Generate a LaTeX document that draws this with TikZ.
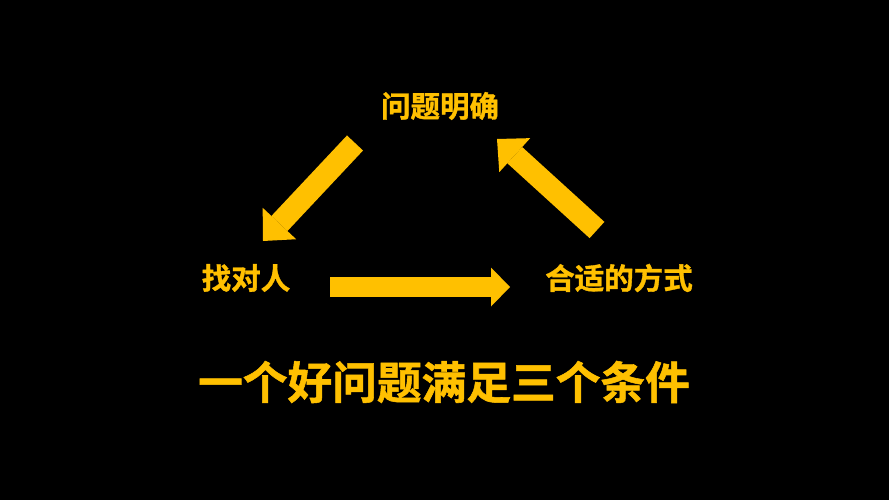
\documentclass[tikz,border=0pt]{standalone}
\usepackage{fontspec}
\usetikzlibrary{arrows.meta}
\newfontfamily\cjk{Noto Sans CJK SC}[BoldFont={Noto Sans CJK SC Bold},BoldFeatures={FakeBold=1.2}]
\definecolor{gold}{HTML}{FFC000}

\begin{document}
\begin{tikzpicture}[x=1pt,y=-1pt,
    label text/.style={text=gold, inner sep=0pt, font=\cjk\bfseries\fontsize{29.5}{34}\selectfont},
    title text/.style={text=gold, inner sep=0pt, font=\cjk\bfseries\fontsize{44.7}{50}\selectfont},
    block arrow/.style={gold, line width=22pt, -{Triangle[length=24pt,width=46pt,line width=0pt]}},
    flat arrow/.style={gold, line width=20pt, -{Triangle[length=19pt,width=39pt,line width=0pt]}}]
        \fill[black] (0,0) rectangle (889,500);
        \useasboundingbox (0,0) rectangle (889,500);
        % the three steps
        \node[label text] (mingque) at (440,106) {问题明确};
        \node[label text] (zhaoren) at (246,278) {找对人};
        \node[label text] (fangshi) at (619,278) {合适的方式};
        % ends of the arrows
        \coordinate (a1) at (355,143);
        \coordinate (b1) at (263,241);
        \coordinate (a2) at (330,287);
        \coordinate (b2) at (510,287);
        \coordinate (a3) at (597,230);
        \coordinate (b3) at (497,139);
        \draw[block arrow] (a1) -- (b1);
        \draw[flat arrow] (a2) -- (b2);
        \draw[block arrow] (a3) -- (b3);
        \node[title text] (tiaojian) at (444,382) {一个好问题满足三个条件};
    \end{tikzpicture}
\end{document}
